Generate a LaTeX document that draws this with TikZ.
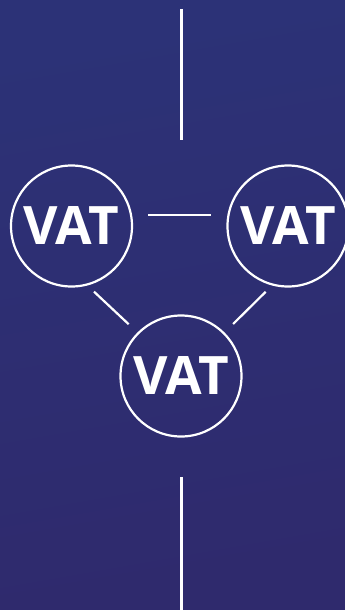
\documentclass[tikz,border=0pt]{standalone}
\usepackage{fontspec}
\setmainfont{Open Sans}
\definecolor{bgtop}{HTML}{2C3277}
\definecolor{bgbot}{HTML}{2F2A6D}
\tikzset{
  vat/.style={draw=white, circle, line width=2.2pt, inner sep=0pt,
    minimum size=121pt, text=white, font=\fontsize{53}{53}\selectfont\bfseries},
  link/.style={draw=white, line width=2.2pt}
}
\begin{document}
\begin{tikzpicture}[x=1pt, y=-1pt]
        \useasboundingbox (0,0) rectangle (345,610);
        \shade[top color=bgtop, bottom color=bgbot, shading angle=10] (0,0) rectangle (345,610);
        \node[vat] (vl) at (71.5, 226) {VAT};
        \node[vat] (vr) at (288, 226) {VAT};
        \node[vat] (vb) at (181, 376) {VAT};
        \coordinate (t1) at (181.5, 9);
        \coordinate (t2) at (181.5, 140);
        \coordinate (b1) at (181.5, 477);
        \coordinate (b2) at (181.5, 610);
        \draw[link] (t1) -- (t2);
        \draw[link] (b1) -- (b2);
        \draw[link, shorten <=15pt, shorten >=15pt] ([yshift=11pt]vl.east) -- ([yshift=11pt]vr.west);
        \draw[link, shorten <=9pt, shorten >=12pt] (vl.-75) -- (vb.135);
        \draw[link, shorten <=9pt, shorten >=12pt] (vr.-105) -- (vb.45);
      \end{tikzpicture}
\end{document}
